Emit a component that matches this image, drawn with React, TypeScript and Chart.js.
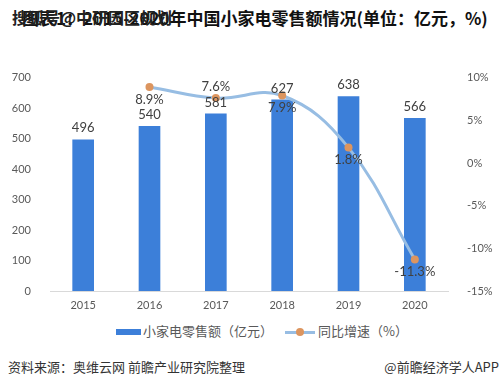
import React, { useEffect, useRef } from "react";
import { Chart, registerables } from "chart.js";

Chart.register(...registerables);

const categories = ["2015", "2016", "2017", "2018", "2019", "2020"];
const salesValues = [496, 540, 581, 627, 638, 566];
const growthValues: (number | null)[] = [null, 8.9, 7.6, 7.9, 1.8, -11.3];
const growthLabelPos = ["", "below", "above", "below", "below", "below"];
const leftTicks = [0, 100, 200, 300, 400, 500, 600, 700];
const rightTicks = [-15, -10, -5, 0, 5, 10];

const BAR_COLOR = "#3c7fd9";
const LINE_COLOR = "#97bde3";
const POINT_COLOR = "#dc955f";
const TICK_COLOR = "#595959";
const FONT = "Lato, 'Noto Sans CJK SC', sans-serif";

const labelPlugin = {
  id: "valueLabels",
  afterDatasetsDraw(chart: any) {
    const ctx = chart.ctx;
    ctx.save();
    ctx.font = `13px ${FONT}`;
    ctx.fillStyle = "#404040";
    ctx.textAlign = "center";
    ctx.textBaseline = "bottom";
    const barMeta = chart.getDatasetMeta(0);
    barMeta.data.forEach((el: any, i: number) => {
      ctx.fillText(String(salesValues[i]), el.x, el.y - 5);
    });
    const lineMeta = chart.getDatasetMeta(1);
    lineMeta.data.forEach((el: any, i: number) => {
      const v = growthValues[i];
      if (v === null) return;
      const txt = `${v.toFixed(1)}%`;
      if (growthLabelPos[i] === "above") {
        ctx.textBaseline = "bottom";
        ctx.fillText(txt, el.x, el.y - 5);
      } else {
        ctx.textBaseline = "top";
        ctx.fillText(txt, el.x, el.y + 6);
      }
    });
    ctx.restore();
  },
};

export default function App() {
  const ref = useRef<HTMLCanvasElement | null>(null);
  useEffect(() => {
    if (!ref.current) return;
    const chart = new Chart(ref.current, {
      data: {
        labels: categories,
        datasets: [
          {
            type: "bar",
            label: "小家电零售额（亿元）",
            data: salesValues,
            backgroundColor: BAR_COLOR,
            barThickness: 21,
            yAxisID: "y",
            order: 2,
          },
          {
            type: "line",
            label: "同比增速（%）",
            data: growthValues,
            borderColor: LINE_COLOR,
            borderWidth: 3,
            tension: 0.4,
            pointRadius: 4,
            pointBackgroundColor: POINT_COLOR,
            pointBorderWidth: 0,
            yAxisID: "y1",
            order: 1,
          },
        ],
      } as any,
      options: {
        animation: false,
        responsive: false,
        layout: { padding: { left: 0, right: 0, top: 17, bottom: 0 } },
        plugins: { legend: { display: false }, tooltip: { enabled: false } },
        scales: {
          x: {
            grid: { display: false, drawTicks: false },
            border: { color: "#d9d9d9" },
            ticks: { color: TICK_COLOR, font: { family: FONT, size: 11 }, padding: 8 },
            afterFit: (axis: any) => {
              axis.height = 30;
            },
          },
          y: {
            position: "left",
            min: 0,
            max: 700,
            afterBuildTicks: (axis: any) => {
              axis.ticks = leftTicks.map((v) => ({ value: v }));
            },
            afterFit: (axis: any) => {
              axis.width = 50;
            },
            grid: { display: false },
            border: { display: false },
            ticks: { color: TICK_COLOR, font: { family: FONT, size: 11 }, padding: 11 },
          },
          y1: {
            position: "right",
            min: -15,
            max: 10,
            afterBuildTicks: (axis: any) => {
              axis.ticks = rightTicks.map((v) => ({ value: v }));
            },
            afterFit: (axis: any) => {
              axis.width = 55;
            },
            grid: { display: false },
            border: { display: false },
            ticks: {
              color: TICK_COLOR,
              font: { family: FONT, size: 11 },
              padding: 11,
              callback: (v: any) => `${v}%`,
            },
          },
        },
      } as any,
      plugins: [labelPlugin],
    });
    return () => chart.destroy();
  }, []);

  return (
    <div
      style={{
        position: "fixed",
        left: 0,
        top: 0,
        width: 503,
        height: 389,
        background: "#fff",
        overflow: "hidden",
        fontFamily: "'Noto Sans CJK SC', sans-serif",
      }}
    >
      <div
        style={{
          position: "absolute",
          left: 22,
          top: 5,
          fontSize: 17,
          fontWeight: 700,
          color: "#111",
          whiteSpace: "nowrap",
        }}
      >
        图表1：2015-2020年中国小家电零售额情况(单位：亿元，%)
      </div>
      <div
        style={{
          position: "absolute",
          left: 12,
          top: 5,
          fontSize: 16,
          fontWeight: 700,
          color: "#222",
          whiteSpace: "nowrap",
        }}
      >
        搜狐号@中研园区规划
      </div>
      <canvas
        ref={ref}
        width={503}
        height={261}
        style={{ position: "absolute", left: 0, top: 60, width: 503, height: 261 }}
      />
      <div
        style={{
          position: "absolute",
          top: 322,
          left: 0,
          width: 503,
          height: 18,
          fontSize: 13,
          color: TICK_COLOR,
          whiteSpace: "nowrap",
        }}
      >
        <div style={{ position: "absolute", left: 116, top: 7, width: 25, height: 6, background: BAR_COLOR }} />
        <div style={{ position: "absolute", left: 143, top: 0, lineHeight: "18px" }}>小家电零售额（亿元）</div>
        <div style={{ position: "absolute", left: 285, top: 9, width: 30, height: 3, background: LINE_COLOR }} />
        <div
          style={{
            position: "absolute",
            left: 296,
            top: 6,
            width: 8,
            height: 8,
            borderRadius: 4,
            background: POINT_COLOR,
          }}
        />
        <div style={{ position: "absolute", left: 318, top: 0, lineHeight: "18px" }}>同比增速（%）</div>
      </div>
      <div
        style={{
          position: "absolute",
          left: 8,
          top: 357,
          fontSize: 13,
          color: "#333",
          whiteSpace: "nowrap",
        }}
      >
        资料来源：奥维云网 前瞻产业研究院整理
      </div>
      <div
        style={{
          position: "absolute",
          right: 4,
          top: 357,
          fontSize: 13,
          color: "#333",
          whiteSpace: "nowrap",
        }}
      >
        @前瞻经济学人APP
      </div>
    </div>
  );
}
